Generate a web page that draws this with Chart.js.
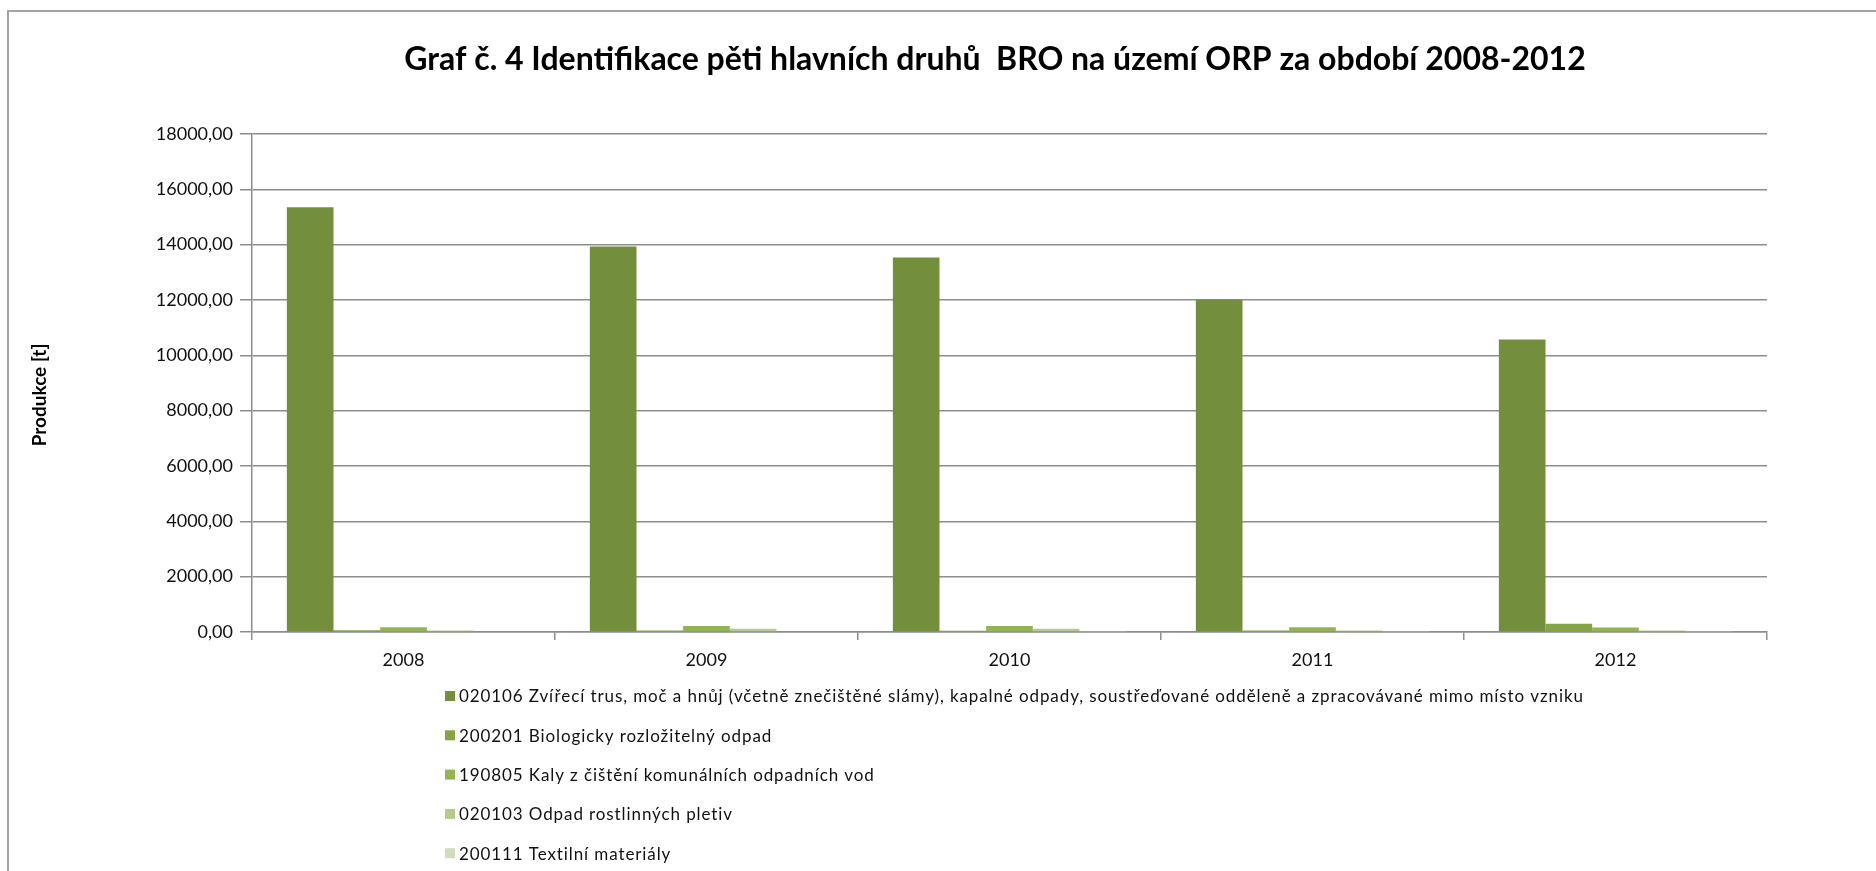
<!DOCTYPE html>
<html><head><meta charset="utf-8">
<script src="https://cdn.jsdelivr.net/npm/chart.js@4.4.0/dist/chart.umd.min.js"></script>
<style>
html,body{margin:0;padding:0;background:#fff;overflow:hidden}
#wrap{position:relative;width:1876px;height:871px}
#frame{position:absolute;left:7px;top:10px;width:2000px;height:1000px;border:2px solid #a3a3a3;box-sizing:border-box}
canvas{position:absolute;left:0;top:0}
</style></head>
<body><div id="wrap"><div id="frame"></div><canvas id="c" width="1876" height="871"></canvas></div>
<script>
const roky = ['2008','2009','2010','2011','2012'];
const nazvy = [
  '020106 Zvířecí trus, moč a hnůj (včetně znečištěné slámy), kapalné odpady, soustřeďované odděleně a zpracovávané mimo místo vzniku',
  '200201 Biologicky rozložitelný odpad',
  '190805 Kaly z čištění komunálních odpadních vod',
  '020103 Odpad rostlinných pletiv',
  '200111 Textilní materiály'
];
const barvy = ['#738f3d','#86a447','#93b452','#b4cb8e','#cfddbd'];
const s020106 = [15350, 13930, 13540, 12020, 10570];
const s200201 = [60, 55, 45, 50, 295];
const s190805 = [170, 220, 220, 170, 160];
const s020103 = [50, 120, 120, 50, 50];
const s200111 = [25, 30, 35, 35, 35];
const yTicks = [0,2000,4000,6000,8000,10000,12000,14000,16000,18000];

const nadpis = 'Graf č. 4 Identifikace pěti hlavních druhů  BRO na území ORP za období 2008-2012';
const osaY = 'Produkce [t]';
const seda = '#8e8e8e';

const serie = [s020106, s200201, s190805, s020103, s200111];

// nadpis, popisek osy Y a legenda po jednom řádku (jako v Excelu)
const kresby = {
  id:'kresby',
  afterDraw(chart){
    const ctx = chart.ctx, a = chart.chartArea;
    ctx.save();
    ctx.fillStyle = '#000';
    ctx.font = 'bold 32px Lato';
    ctx.textAlign = 'center'; ctx.textBaseline = 'middle';
    ctx.fillText(nadpis, 995, 60);

    ctx.save();
    ctx.translate(40, (a.top+a.bottom)/2 + 12);
    ctx.rotate(-Math.PI/2);
    ctx.font = 'bold 19px Lato';
    ctx.fillText(osaY, 0, 0);
    ctx.restore();

    ctx.textAlign = 'left';
    ctx.font = '17px Lato';
    ctx.letterSpacing = '0.9px';
    chart.data.datasets.forEach((d,i)=>{
      const y = a.bottom + 64 + i*39.3;
      ctx.fillStyle = d.backgroundColor;
      ctx.fillRect(445, y-5, 10, 10);
      ctx.fillStyle = '#111';
      ctx.fillText(d.label, 459, y+1);
    });
    ctx.restore();
  }
};

new Chart(document.getElementById('c'), {
  type:'bar',
  data:{
    labels: roky,
    datasets: serie.map((s,i)=>({ label:nazvy[i], data:s, backgroundColor:barvy[i], categoryPercentage:0.77, barPercentage:1 }))
  },
  options:{
    responsive:false, animation:false, devicePixelRatio:1,
    layout:{ padding:{ left:0, top:134, right:109, bottom:194 } },
    plugins:{ legend:{display:false}, tooltip:{enabled:false} },
    scales:{
      x:{
        afterFit: s=>{ s.height = 45; },
        grid:{ offset:true, drawOnChartArea:false, tickLength:8, color:seda, lineWidth:1.5 },
        border:{ color:seda, width:1.5 },
        ticks:{ color:'#111', font:{family:'Lato', size:18}, padding:9 }
      },
      y:{
        min:0, max:18000,
        afterFit: s=>{ s.width = 252; },
        afterBuildTicks: s=>{ s.ticks = yTicks.map(v=>({value:v})); },
        grid:{ color:seda, lineWidth:1.5, tickLength:12 },
        border:{ color:seda, width:1.5 },
        ticks:{ color:'#111', font:{family:'Lato', size:18}, padding:7,
          callback: v=>v.toFixed(2).replace('.',',') }
      }
    }
  },
  plugins:[kresby]
});
</script>
</body></html>
